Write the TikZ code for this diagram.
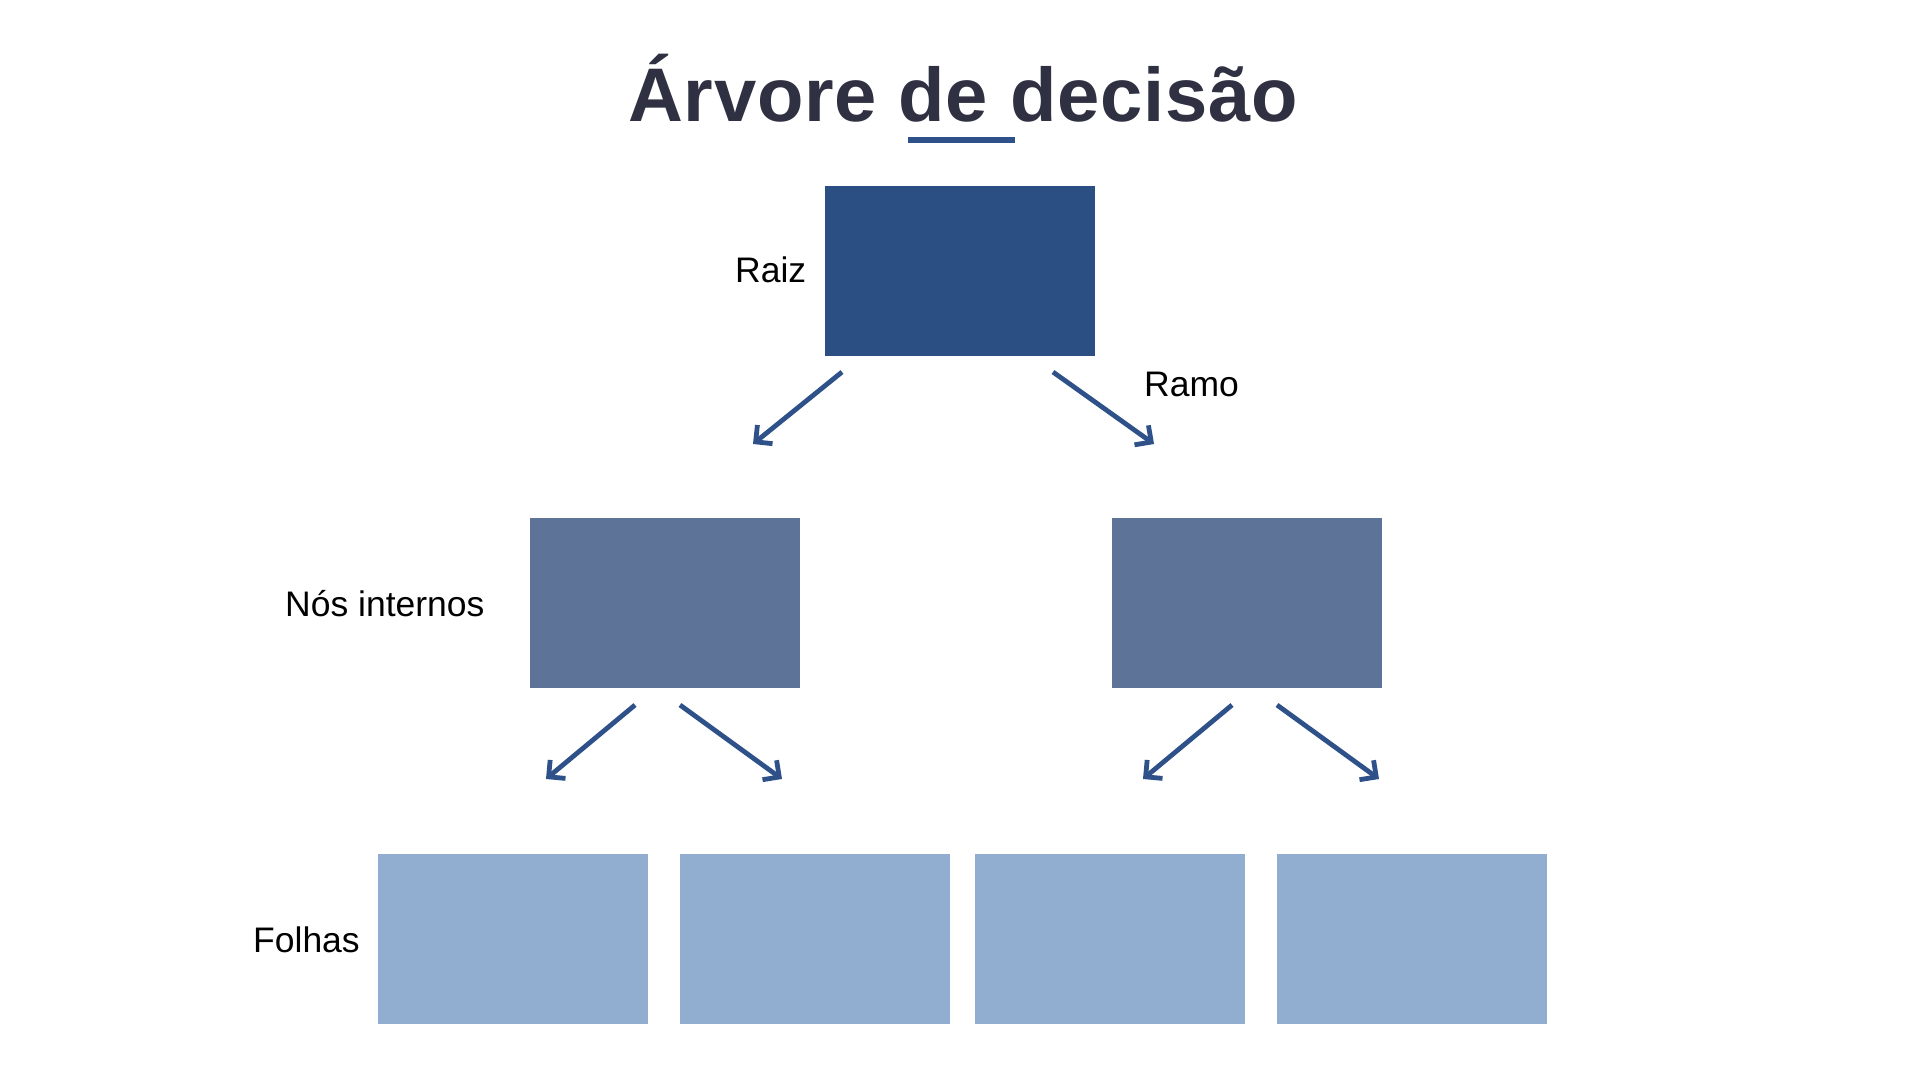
\documentclass[tikz,border=0pt]{standalone}
\usepackage{fontspec}
\setmainfont{Liberation Sans}
\newfontfamily\titlefont[LetterSpace=1]{Liberation Sans}
\usetikzlibrary{arrows.meta}
\definecolor{rootc}{HTML}{2B4F82}
\definecolor{midc}{HTML}{5E7398}
\definecolor{leafc}{HTML}{91AED1}
\definecolor{arrc}{HTML}{2E5189}
\definecolor{titlec}{HTML}{2F3142}
\begin{document}
\begin{tikzpicture}[x=1pt,y=-1pt,
  box/.style={minimum width=270pt,minimum height=170pt,inner sep=0pt,outer sep=0pt},
  rootbox/.style={box,fill=rootc},
  midbox/.style={box,fill=midc},
  leafbox/.style={box,fill=leafc},
  lbl/.style={anchor=base west,inner sep=0pt,font=\fontsize{35.5}{42}\selectfont,text=black},
  arr/.style={draw=arrc,line width=4.8pt,-{Straight Barb[length=12pt,width=24pt,line width=4.8pt]}}]
\fill[white] (0,0) rectangle (1920,1080);
\useasboundingbox (0,0) rectangle (1920,1080);
% title
\node[anchor=base,inner sep=0pt,font=\titlefont\fontsize{76}{90}\selectfont\bfseries,text=titlec] (title) at (963,121) {Árvore de decisão};
\fill[arrc] (908,137) rectangle (1015,143);
% boxes
\node[rootbox] (root) at (960,271) {};
\node[midbox] (m1) at (665,603) {};
\node[midbox] (m2) at (1247,603) {};
\node[leafbox] (l1) at (513,938.5) {};
\node[leafbox] (l2) at (814.5,938.5) {};
\node[leafbox] (l3) at (1110,938.5) {};
\node[leafbox] (l4) at (1411.5,938.5) {};
% labels
\node[lbl] (raiz) at (735,282) {Raiz};
\node[lbl] (ramo) at (1144,396) {Ramo};
\node[lbl] (nos) at (285,616) {Nós internos};
\node[lbl] (folhas) at (253,952) {Folhas};
% arrow coordinates
\coordinate (a1s) at (842,372); \coordinate (a1e) at (753,444);
\coordinate (a2s) at (1053,372); \coordinate (a2e) at (1154,444);
\coordinate (a3s) at (635,705); \coordinate (a3e) at (546,779);
\coordinate (a4s) at (680,705); \coordinate (a4e) at (782,779);
\coordinate (a5s) at (1232,705); \coordinate (a5e) at (1143,779);
\coordinate (a6s) at (1277,705); \coordinate (a6e) at (1379,779);
\draw[arr] (a1s) -- (a1e);
\draw[arr] (a2s) -- (a2e);
\draw[arr] (a3s) -- (a3e);
\draw[arr] (a4s) -- (a4e);
\draw[arr] (a5s) -- (a5e);
\draw[arr] (a6s) -- (a6e);
\end{tikzpicture}
\end{document}
